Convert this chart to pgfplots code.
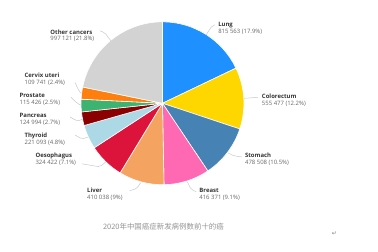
\documentclass[border=0pt]{standalone}
\usepackage{pgfplots}
\usepackage{pgfplotstable}
\pgfplotsset{compat=1.18}
\usepackage{fontspec}
\setmainfont{Open Sans}
\newfontfamily\cjk{Noto Sans CJK SC}
\newfontfamily\djv{DejaVu Sans}
\definecolor{c0}{HTML}{1E90FF}
\definecolor{c1}{HTML}{FFD700}
\definecolor{c2}{HTML}{4682B4}
\definecolor{c3}{HTML}{FF69B4}
\definecolor{c4}{HTML}{F4A460}
\definecolor{c5}{HTML}{DC143C}
\definecolor{c6}{HTML}{ADD8E6}
\definecolor{c7}{HTML}{8B0000}
\definecolor{c8}{HTML}{3CB371}
\definecolor{c9}{HTML}{FF7F0E}
\definecolor{c10}{HTML}{D3D3D3}
\definecolor{lbl}{HTML}{333333}
\definecolor{val}{HTML}{666666}
\definecolor{lead}{HTML}{C8C8C8}
\pgfplotstableread{
idx value pct
0 815563 17.9
1 555477 12.2
2 478508 10.5
3 416371 9.1
4 410038 9.0
5 324422 7.1
6 221093 4.8
7 124994 2.7
8 115426 2.5
9 109741 2.4
10 997121 21.8
}\pietable
\begin{document}
\xdef\cumang{90}
\foreach \i in {0,...,10}{%
  \pgfplotstablegetelem{\i}{pct}\of\pietable
  \pgfmathsetmacro\endang{\cumang - 3.6*\pgfplotsretval}%
  \expandafter\xdef\csname sA\i\endcsname{\cumang}%
  \expandafter\xdef\csname eA\i\endcsname{\endang}%
  \xdef\cumang{\endang}%
}%
\begin{tikzpicture}
\begin{axis}[hide axis, scale only axis, x=1pt, y=1pt,
  xmin=0, xmax=378, ymin=0, ymax=253, clip=false]
\path (axis cs:0,0) rectangle (axis cs:378,253);
\pgfplotsinvokeforeach{0,...,10}{
  \fill[c#1, draw=white, line width=0.6pt, line join=round]
    (axis cs:161,149) -- ++(\csname sA#1\endcsname:82pt)
    arc[start angle=\csname sA#1\endcsname, end angle=\csname eA#1\endcsname, radius=82pt] -- cycle;
}
% leader lines
\begin{scope}[lead, line width=0.5pt, rounded corners=2pt]
\draw (axis cs:109,212) -- (axis cs:103,220) -- (axis cs:98,222);
\draw (axis cs:205,218) -- (axis cs:211,227) -- (axis cs:214,228);
\draw (axis cs:243,154) -- (axis cs:257,155);
\draw (axis cs:227,99) -- (axis cs:233,96) -- (axis cs:241,95);
\draw (axis cs:186,70) -- (axis cs:190,62) -- (axis cs:195,60);
\draw (axis cs:139,69) -- (axis cs:135,63) -- (axis cs:128,61);
\draw (axis cs:104,90) -- (axis cs:98,85) -- (axis cs:80,88);
\draw (axis cs:86,115) -- (axis cs:80,113) -- (axis cs:73,117);
\draw (axis cs:80,133) -- (axis cs:76,131) -- (axis cs:68,135);
\draw (axis cs:79,147) -- (axis cs:75,149) -- (axis cs:69,155);
\draw (axis cs:79,159) -- (axis cs:76,163) -- (axis cs:73,170);
\end{scope}
% labels
\begin{scope}[every node/.style={anchor=north west, align=left, inner sep=0pt,
   font=\fontsize{6}{7}\selectfont}]
\node at (axis cs:48,223.5) {\textcolor{lbl}{\bfseries Other cancers}\\\textcolor{val}{997 121 (21.8\%)}};
\node at (axis cs:217,230.5) {\textcolor{lbl}{\bfseries Lung}\\\textcolor{val}{815 563 (17.9\%)}};
\node at (axis cs:261,158.5) {\textcolor{lbl}{\bfseries Colorectum}\\\textcolor{val}{555 477 (12.2\%)}};
\node at (axis cs:244,99.5) {\textcolor{lbl}{\bfseries Stomach}\\\textcolor{val}{478 508 (10.5\%)}};
\node at (axis cs:198,63.5) {\textcolor{lbl}{\bfseries Breast}\\\textcolor{val}{416 371 (9.1\%)}};
\node at (axis cs:85,63.5) {\textcolor{lbl}{\bfseries Liver}\\\textcolor{val}{410 038 (9\%)}};
\node at (axis cs:33,99.5) {\textcolor{lbl}{\bfseries Oesophagus}\\\textcolor{val}{324 422 (7.1\%)}};
\node at (axis cs:22,119.5) {\textcolor{lbl}{\bfseries Thyroid}\\\textcolor{val}{221 093 (4.8\%)}};
\node at (axis cs:17,139.5) {\textcolor{lbl}{\bfseries Pancreas}\\\textcolor{val}{124 994 (2.7\%)}};
\node at (axis cs:17,159.5) {\textcolor{lbl}{\bfseries Prostate}\\\textcolor{val}{115 426 (2.5\%)}};
\node at (axis cs:22,179.5) {\textcolor{lbl}{\bfseries Cervix uteri}\\\textcolor{val}{109 741 (2.4\%)}};
\end{scope}
\node[inner sep=0pt, text=gray!85, font=\cjk\fontsize{7.5}{8}\selectfont] at (axis cs:162,25) {2020年中国癌症新发病例数前十的癌};
\node[inner sep=0pt, text=gray, font=\djv\fontsize{6}{7}\selectfont] at (axis cs:334,18) {↵};
\end{axis}
\end{tikzpicture}
\end{document}
